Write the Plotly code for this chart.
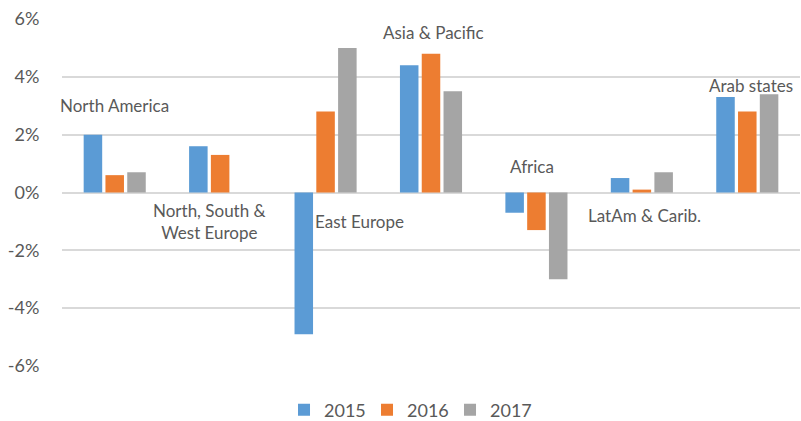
import plotly.graph_objects as go

categories = ["North America", "North, South &<br>West Europe", "East Europe",
              "Asia & Pacific", "Africa", "LatAm & Carib.", "Arab states"]
years = ["2015", "2016", "2017"]
v2015 = [2.0, 1.6, -4.9, 4.4, -0.7, 0.5, 3.3]
v2016 = [0.6, 1.3, 2.8, 4.8, -1.3, 0.1, 2.8]
v2017 = [0.7, 0.0, 5.0, 3.5, -3.0, 0.7, 3.4]
tick_vals = [-6, -4, -2, 0, 2, 4, 6]
tick_text = ["-6%", "-4%", "-2%", "0%", "2%", "4%", "6%"]

colors = ["#5B9BD5", "#ED7D31", "#A5A5A5"]
series = [v2015, v2016, v2017]

# label placement (value-axis position, horizontal pixel shift) per category
label_y = [3.0, -1.0, -1.0, 5.55, 0.9, -0.8, 3.7]
label_dx = [0, -11, 34, 2, -4, 3, 4]

FONT = "Lato"
TXT = "#595959"

fig = go.Figure()
for name, vals, c in zip(years, series, colors):
    fig.add_trace(go.Bar(x=list(range(len(categories))), y=vals, name=name,
                         marker=dict(color=c, line=dict(width=0))))

for i, cat in enumerate(categories):
    fig.add_annotation(x=i, y=label_y[i], xref="x", yref="y", text=cat,
                       showarrow=False, xshift=label_dx[i],
                       font=dict(family=FONT, size=17, color=TXT))

fig.update_layout(
    width=801, height=421,
    margin=dict(l=62, r=1, t=19, b=55, autoexpand=False),
    paper_bgcolor="white", plot_bgcolor="white",
    barmode="group", bargap=0.38, bargroupgap=0.15,
    font=dict(family=FONT, size=16, color=TXT),
    showlegend=True,
    legend=dict(orientation="h", x=0.51, xanchor="center", xref="container",
                y=0.026, yanchor="middle", yref="container",
                font=dict(family=FONT, size=18, color=TXT), itemwidth=30,
                entrywidth=38, traceorder="normal"),
    xaxis=dict(showticklabels=False, showgrid=False, zeroline=False,
               range=[-0.5, len(categories) - 0.5], fixedrange=True,
               automargin=False),
    yaxis=dict(range=[-6, 6], tickvals=tick_vals, ticktext=tick_text,
               showgrid=True, gridcolor="#D9D9D9", gridwidth=1.8,
               zeroline=True, zerolinecolor="#D9D9D9", zerolinewidth=1.8,
               ticks="outside", ticklen=18, tickcolor="rgba(0,0,0,0)",
               automargin=False, fixedrange=True,
               tickfont=dict(family=FONT, size=18, color=TXT)),
)

fig.write_html("out.html", config={"displayModeBar": False},
               post_script="document.body.style.margin='0';document.body.style.overflow='hidden';")
